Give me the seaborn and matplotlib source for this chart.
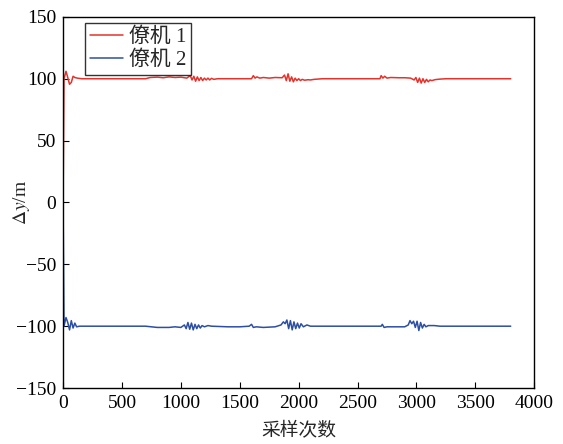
import numpy as np
import pandas as pd
import matplotlib
matplotlib.use("Agg")
import matplotlib.pyplot as plt
import seaborn as sns

# Sample index / position deviation for follower 1
uav1_idx = [0, 8, 25, 40, 55, 70, 85, 100, 120, 160, 700, 740, 800, 850, 900, 950, 1000, 1050,
            1080, 1095, 1110, 1125, 1140, 1155, 1170, 1185, 1200, 1215, 1230, 1245, 1260, 1280, 1310,
            1600, 1615, 1630, 1645, 1670, 1700, 1750, 1800, 1860, 1880, 1895, 1910, 1925, 1940, 1955,
            1970, 1985, 2000, 2015, 2030, 2050, 2080, 2100, 2130, 2160, 2200, 2690, 2700, 2715, 2730,
            2750, 2780, 2850, 2900, 2950, 2980, 2995, 3010, 3025, 3040, 3055, 3070, 3085, 3100, 3115,
            3130, 3160, 3200, 3250, 3800]
uav1_val = [0, 100, 106, 101, 95.5, 97, 102, 101, 100.5, 100, 100, 101, 101.3, 100.8, 101.5, 101, 101.3, 100.5,
            102.5, 99, 102, 98, 101.5, 98.5, 101, 98.5, 100.5, 99, 100.5, 99, 100.3, 99.5, 100,
            100, 102.5, 100.5, 101.5, 100.5, 101, 100.5, 101, 100.8, 103, 98.5, 104, 98, 101.5, 97.5,
            100.5, 98.5, 100, 98.5, 99.5, 98.8, 99.2, 99, 99.5, 99.7, 100, 100, 102.5, 100.5, 102,
            100.5, 101, 100.8, 100.8, 100.5, 99, 101, 97, 100.5, 96.5, 100, 97, 99.5, 97.5, 99,
            98.5, 99.3, 99.7, 100, 100]

# Sample index / position deviation for follower 2
uav2_idx = [0, 8, 25, 40, 55, 70, 85, 100, 115, 140, 700, 750, 800, 900, 950, 1000, 1030, 1045, 1060,
            1075, 1090, 1105, 1120, 1135, 1150, 1165, 1180, 1200, 1230, 1260, 1400, 1500, 1580, 1600,
            1615, 1640, 1700, 1800, 1850, 1870, 1885, 1900, 1915, 1930, 1945, 1960, 1975, 1990, 2005,
            2020, 2040, 2070, 2100, 2700, 2710, 2725, 2750, 2900, 2930, 2945, 2960, 2975, 2990, 3005,
            3020, 3035, 3050, 3065, 3080, 3100, 3150, 3200, 3800]
uav2_val = [0, -100, -93, -97, -103, -95.5, -101.5, -97.5, -100.5, -100, -100, -100.5, -101, -101, -100.5, -101, -99, -102, -97,
            -102.5, -97.5, -103, -98.5, -102, -99, -101.5, -99.5, -100.5, -99.5, -100, -100.5, -100.5, -100, -98.5,
            -101, -100.5, -101, -100.5, -99, -96.5, -98, -95, -102, -95.5, -103, -96.5, -102, -97.5, -101.5,
            -98, -100.5, -99, -100, -100, -98.5, -101, -100.5, -100.5, -99, -95.5, -98, -96, -101, -96,
            -103.5, -97, -101.5, -98.5, -100.5, -99.5, -99.5, -100, -100]

labels = ["僚机 1", "僚机 2"]
colors = ["#e5322b", "#2d4fa3"]

df = pd.concat([
    pd.DataFrame({"n": uav1_idx, "dy": uav1_val, "who": labels[0]}),
    pd.DataFrame({"n": uav2_idx, "dy": uav2_val, "who": labels[1]}),
], ignore_index=True)

sns.set_theme(style="ticks")
plt.rcParams["font.family"] = ["Liberation Serif", "Noto Sans CJK SC"]
plt.rcParams["mathtext.fontset"] = "stix"
plt.rcParams["axes.unicode_minus"] = True

fig = plt.figure(figsize=(5.63, 4.44), dpi=100)
ax = fig.add_axes([0.112, 0.126, 0.837, 0.836])

sns.lineplot(data=df, x="n", y="dy", hue="who", palette=colors, estimator=None,
             sort=False, linewidth=1.1, ax=ax)

ax.set_xlim(0, 4000)
ax.set_ylim(-150, 150)
ax.set_xticks(np.arange(0, 4001, 500))
ax.set_yticks(np.arange(-150, 151, 50))
ax.tick_params(direction="in", length=4, width=0.8, labelsize=14, colors="black",
               top=False, right=False, pad=5)
for s in ax.spines.values():
    s.set_visible(True)
    s.set_color("black")
    s.set_linewidth(1.0)

ax.set_xlabel("采样次数", fontsize=13.5, labelpad=7)
ax.set_ylabel(r"$\Delta y$/m", fontsize=14)
ax.yaxis.set_label_coords(-0.066, 0.5)

leg = ax.legend(title=None, loc="upper left", bbox_to_anchor=(0.047, 0.983),
                fontsize=15, frameon=True, fancybox=False, edgecolor="black",
                handlelength=1.6, handletextpad=0.3, borderpad=0.22, labelspacing=0.15,
                borderaxespad=0.0)
leg.get_frame().set_linewidth(1.0)

fig.savefig("out.png", dpi=100)
